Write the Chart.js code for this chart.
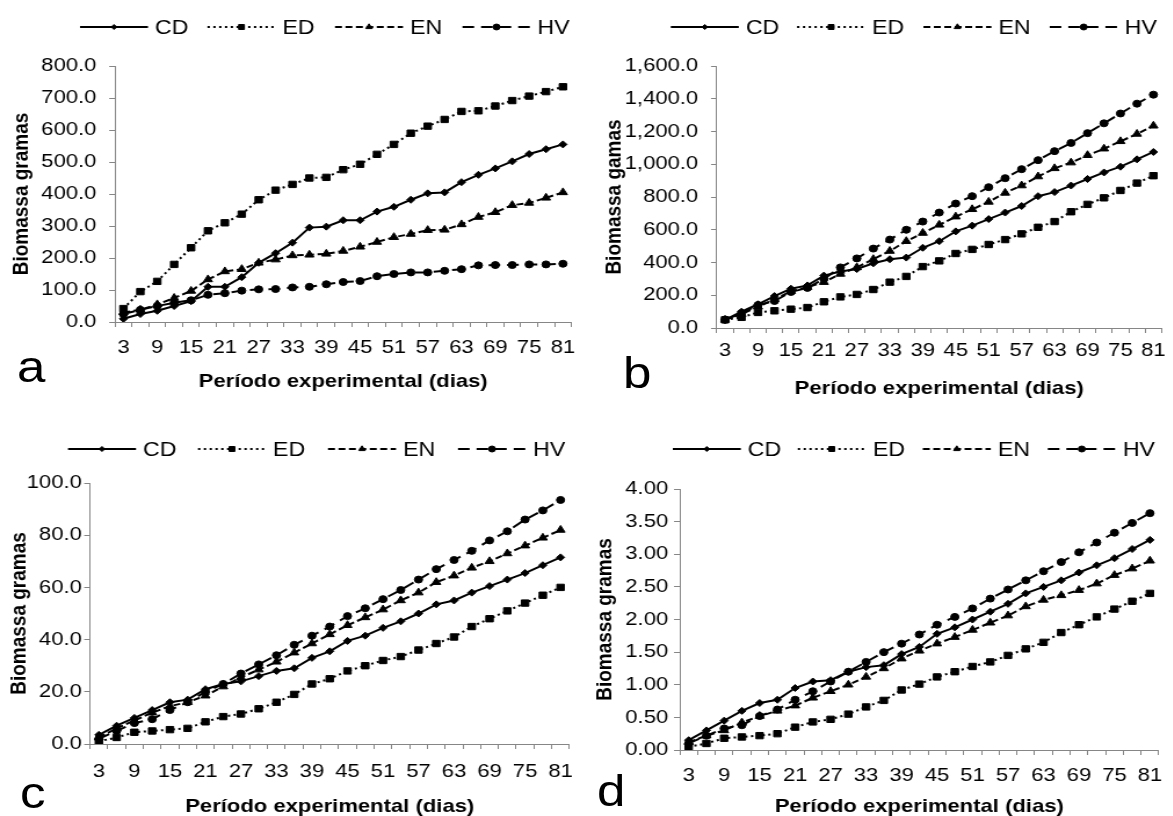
<!DOCTYPE html>
<html lang="pt-BR">
<head>
<meta charset="UTF-8">
<title>Biomassa - período experimental</title>
<script src="https://cdn.jsdelivr.net/npm/chart.js"></script>
<style>
  html, body { margin: 0; padding: 0; background: #fff; }
  body { width: 1173px; height: 816px; overflow: hidden; position: relative; }
  #wrap { position: absolute; left: 0; top: 0; height: 816px; transform-origin: 0 0; }
  #wrap canvas { position: absolute; }
  .letra {
    position: absolute;
    font-family: "Liberation Sans", Arial, sans-serif;
    font-size: 44px;
    line-height: 44px;
    color: #000;
  }
</style>
</head>
<body>
<div id="wrap">
  <canvas id="grafA"></canvas>
  <canvas id="grafB"></canvas>
  <canvas id="grafC"></canvas>
  <canvas id="grafD"></canvas>
  <div class="letra" id="letraA">a</div>
  <div class="letra" id="letraB">b</div>
  <div class="letra" id="letraC">c</div>
  <div class="letra" id="letraD">d</div>
</div>

<script>
  // dias de coleta
  const dias = [3, 6, 9, 12, 15, 18, 21, 24, 27, 30, 33, 36, 39, 42, 45, 48, 51, 54, 57, 60, 63, 66, 69, 72, 75, 78, 81];
  const nomes = ["CD", "ED", "EN", "HV"];

  // painel a
  const aCD = [10, 25, 35, 50, 65, 110, 110, 140, 185, 215, 248, 295, 298, 318, 318, 345, 360, 382, 402, 405, 437, 460, 480, 502, 525, 540, 555];
  const aED = [42, 95, 127, 180, 232, 285, 310, 337, 382, 412, 430, 450, 452, 476, 493, 524, 555, 590, 612, 633, 658, 660, 675, 692, 706, 720, 735];
  const aEN = [30, 38, 55, 75, 97, 133, 158, 165, 185, 195, 208, 210, 213, 222, 235, 250, 265, 275, 287, 288, 305, 328, 343, 365, 372, 388, 405];
  const aHV = [25, 38, 50, 60, 68, 85, 90, 98, 102, 103, 108, 110, 118, 125, 128, 143, 150, 155, 155, 160, 165, 177, 178, 178, 180, 180, 182];

  // painel b
  const bCD = [50, 100, 145, 195, 240, 260, 320, 345, 360, 395, 420, 430, 490, 530, 590, 625, 665, 705, 745, 805, 830, 870, 910, 950, 985, 1030, 1075];
  const bED = [50, 65, 95, 105, 115, 125, 160, 190, 205, 235, 280, 315, 375, 410, 455, 480, 510, 540, 575, 615, 650, 710, 755, 795, 840, 885, 930];
  const bEN = [50, 85, 130, 175, 225, 250, 280, 330, 370, 420, 470, 530, 580, 630, 680, 725, 770, 825, 870, 925, 975, 1010, 1055, 1095, 1140, 1185, 1235];
  const bHV = [50, 90, 140, 165, 220, 245, 300, 370, 425, 485, 540, 600, 650, 705, 760, 805, 860, 915, 970, 1025, 1080, 1130, 1190, 1250, 1310, 1370, 1425];

  // painel c
  const cCD = [3.5, 7, 10, 13, 16, 17, 21, 23, 24, 26, 28, 29, 33, 35.5, 39.5, 41.5, 44.5, 47, 50, 53.5, 55, 58, 60.5, 63, 65.5, 68.5, 71.5];
  const cED = [1, 2.5, 4.5, 5, 5.5, 6, 8.5, 10.5, 11.5, 13.5, 16, 19, 23, 25, 28, 30, 32, 33.5, 36, 38.5, 41, 45, 48, 51, 54, 57, 60];
  const cEN = [2.5, 6, 9, 12, 14.5, 16, 18.5, 22, 25.5, 28.5, 31.5, 35, 38.5, 42, 45.5, 48.5, 51.5, 55, 58, 62, 64.5, 67.5, 70, 73, 76, 79, 82];
  const cHV = [2, 5, 8, 9.5, 13, 16, 20, 23, 27, 30.5, 34, 38, 41.5, 45, 49, 52, 55.5, 59, 63, 67, 70.5, 74, 78, 81.5, 86, 89.5, 93.5];

  // painel d
  const dCD = [0.15, 0.30, 0.45, 0.60, 0.72, 0.77, 0.95, 1.05, 1.07, 1.20, 1.27, 1.30, 1.47, 1.58, 1.78, 1.88, 2.00, 2.12, 2.24, 2.40, 2.50, 2.60, 2.72, 2.83, 2.94, 3.08, 3.22];
  const dED = [0.05, 0.10, 0.18, 0.20, 0.22, 0.25, 0.35, 0.43, 0.47, 0.55, 0.66, 0.76, 0.92, 1.01, 1.12, 1.20, 1.28, 1.35, 1.45, 1.55, 1.65, 1.80, 1.92, 2.04, 2.16, 2.28, 2.40];
  const dEN = [0.12, 0.22, 0.30, 0.42, 0.52, 0.60, 0.68, 0.80, 0.90, 1.00, 1.12, 1.25, 1.40, 1.52, 1.63, 1.73, 1.84, 1.95, 2.06, 2.20, 2.30, 2.37, 2.45, 2.55, 2.68, 2.78, 2.90];
  const dHV = [0.10, 0.22, 0.33, 0.38, 0.52, 0.62, 0.77, 0.90, 1.05, 1.20, 1.35, 1.50, 1.63, 1.77, 1.92, 2.04, 2.17, 2.32, 2.46, 2.60, 2.74, 2.88, 3.03, 3.18, 3.33, 3.48, 3.63];

  // a figura original está esticada na horizontal
  const SX = 1.16;
  const nx = v => v / SX;
  const FONTE = '"Liberation Sans", Arial, sans-serif';
  const CINZA = "#868686";

  const estilos = [
    { borderDash: [], pointStyle: "rectRot", pointRadius: 3.5, legendaRaio: 2.5 },
    { borderDash: [2, 3], pointStyle: "rect", pointRadius: 4.5, legendaRaio: 3.5 },
    { borderDash: [6, 3], pointStyle: "triangle", pointRadius: 4.5, legendaRaio: 3.2 },
    { borderDash: [10, 6], pointStyle: "circle", pointRadius: 3.5, legendaRaio: 3 }
  ];

  // legenda com linha + marcador
  const lineLegend = {
    id: "lineLegend",
    afterDraw(chart, args, opts) {
      const ctx = chart.ctx;
      chart.data.datasets.forEach((ds, i) => {
        const x = opts.x + i * opts.passo;
        const y = opts.y;
        ctx.save();
        ctx.strokeStyle = "#000";
        ctx.fillStyle = "#000";
        ctx.lineWidth = 2;
        ctx.setLineDash(ds.borderDash);
        ctx.beginPath();
        ctx.moveTo(x, y);
        ctx.lineTo(x + opts.comp, y);
        ctx.stroke();
        ctx.setLineDash([]);
        ctx.lineWidth = 1;
        Chart.helpers.drawPoint(ctx, { pointStyle: ds.pointStyle, radius: ds.legendaRaio, borderWidth: 1, rotation: 0 }, x + opts.comp / 2, y);
        ctx.font = "20px " + FONTE;
        ctx.textBaseline = "middle";
        ctx.textAlign = "left";
        ctx.fillText(ds.label, x + opts.comp + 6, y + 1);
        ctx.restore();
      });
    }
  };

  function montarGrafico(id, cfg) {
    const canvas = document.getElementById(id);
    const b = cfg.box, p = cfg.plot;
    canvas.width = Math.round(nx(b.x1 - b.x0));
    canvas.height = b.y1 - b.y0;
    canvas.style.left = nx(b.x0) + "px";
    canvas.style.top = b.y0 + "px";

    const datasets = cfg.series.map((s, i) => Object.assign({
      label: nomes[i],
      data: s,
      borderColor: "#000",
      borderWidth: 2,
      pointBackgroundColor: "#000",
      pointBorderColor: "#000",
      pointBorderWidth: 1,
      tension: 0
    }, estilos[i]));

    new Chart(canvas, {
      type: "line",
      data: { labels: dias, datasets },
      options: {
        responsive: false,
        animation: false,
        events: [],
        layout: { padding: { top: p.top - b.y0, right: nx(b.x1 - p.right), left: 0, bottom: 0 } },
        plugins: {
          legend: { display: false },
          tooltip: { enabled: false },
          lineLegend: { x: nx(cfg.leg.x - b.x0), y: cfg.leg.y - b.y0, passo: nx(cfg.leg.passo), comp: nx(68) }
        },
        scales: {
          x: {
            offset: true,
            grid: { offset: true, drawOnChartArea: false, drawTicks: true, tickLength: 5, color: CINZA },
            border: { color: CINZA, width: 1 },
            ticks: {
              autoSkip: false, maxRotation: 0, minRotation: 0,
              padding: cfg.xPad, color: "#000",
              font: { family: FONTE, size: 19 },
              callback: (v, i) => (i % 2 === 0 ? dias[i] : "")
            },
            title: {
              display: true, text: "Período experimental (dias)", color: "#000",
              font: { family: FONTE, size: 19, weight: "bold" },
              padding: { top: 0, bottom: cfg.xTitPad }
            },
            afterFit: s => { s.height = b.y1 - p.bottom; }
          },
          y: {
            min: 0, max: cfg.yMax,
            grid: { drawOnChartArea: false, drawTicks: true, tickLength: 5, color: CINZA },
            border: { color: CINZA, width: 1 },
            ticks: {
              stepSize: cfg.yStep, padding: cfg.yPad, color: "#000",
              font: { family: FONTE, size: 19 },
              callback: cfg.fmt
            },
            title: {
              display: true, text: cfg.yTitulo, color: "#000",
              font: { family: FONTE, size: 19, weight: "bold" },
              padding: { top: cfg.yTitPad, bottom: 0 }
            },
            afterFit: s => { s.width = nx(p.left - b.x0); }
          }
        }
      },
      plugins: [lineLegend]
    });
  }

  const fmt1 = v => v.toLocaleString("en-US", { minimumFractionDigits: 1, maximumFractionDigits: 1 });
  const fmt2 = v => v.toFixed(2);

  montarGrafico("grafA", {
    box: { x0: 0, x1: 586, y0: 0, y1: 400 },
    plot: { left: 115, right: 577, top: 66, bottom: 322 },
    series: [aCD, aED, aEN, aHV],
    yMax: 800, yStep: 100, fmt: fmt1, yPad: 11, xPad: 9,
    yTitulo: "Biomassa gramas", yTitPad: 7.6, xTitPad: 6.5,
    leg: { x: 80, y: 27, passo: 127.5 }
  });

  montarGrafico("grafB", {
    box: { x0: 586, x1: 1173, y0: 0, y1: 405 },
    plot: { left: 717, right: 1170, top: 66, bottom: 328 },
    series: [bCD, bED, bEN, bHV],
    yMax: 1600, yStep: 200, fmt: fmt1, yPad: 11, xPad: 6,
    yTitulo: "Biomassa gamas", yTitPad: 13.6, xTitPad: 5,
    leg: { x: 671, y: 27, passo: 126.3 }
  });

  montarGrafico("grafC", {
    box: { x0: 0, x1: 586, y0: 420, y1: 822 },
    plot: { left: 90, right: 575, top: 483, bottom: 744 },
    series: [cCD, cED, cEN, cHV],
    yMax: 100, yStep: 20, fmt: fmt1, yPad: 2, xPad: 11,
    yTitulo: "Biomassa gramas", yTitPad: 5.8, xTitPad: 3.5,
    leg: { x: 68, y: 449, passo: 130 }
  });

  montarGrafico("grafD", {
    box: { x0: 586, x1: 1173, y0: 420, y1: 822 },
    plot: { left: 680, right: 1168, top: 489, bottom: 750 },
    series: [dCD, dED, dEN, dHV],
    yMax: 4, yStep: 0.5, fmt: fmt2, yPad: 5, xPad: 9,
    yTitulo: "Biomassa gramas", yTitPad: 5, xTitPad: 3.5,
    leg: { x: 673, y: 449, passo: 125 }
  });

  // escala horizontal do conjunto
  const wrap = document.getElementById("wrap");
  wrap.style.width = nx(1173) + "px";
  wrap.style.transform = "scaleX(" + SX + ")";

  const letras = [["letraA", 17, 382], ["letraB", 623, 388], ["letraC", 20, 808], ["letraD", 597, 806]];
  letras.forEach(([id, x, base]) => {
    const el = document.getElementById(id);
    el.style.left = nx(x) + "px";
    el.style.top = (base - 37) + "px";
  });
</script>
</body>
</html>
